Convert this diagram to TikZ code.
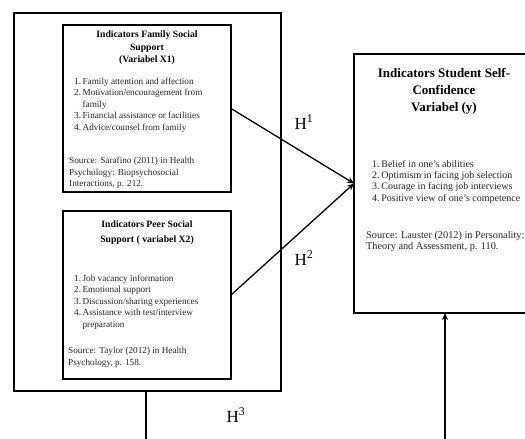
\documentclass[tikz,border=0pt]{standalone}
\usepackage{fontspec}
\setmainfont{Liberation Serif}
\usetikzlibrary{arrows.meta}
\begin{document}
\begin{tikzpicture}[x=1pt,y=-1pt,
  frame/.style={draw=black,line width=1.8pt,inner sep=0pt,outer sep=0pt,rectangle},
  conn/.style={draw=black,line width=1.3pt},
  arr/.style={conn,-{Stealth[length=7pt,width=6pt]}},
  ttl/.style={font=\fontsize{9.7}{12.5}\selectfont\bfseries,align=center,inner sep=0pt,anchor=north},
  ttlbig/.style={font=\fontsize{13}{17}\selectfont\bfseries,align=center,inner sep=0pt,anchor=north},
  body/.style={font=\fontsize{9.2}{11.5}\selectfont,align=left,inner sep=0pt,anchor=north west,text=black!85},
  bodyy/.style={body,font=\fontsize{10}{11.3}\selectfont},
  hlab/.style={font=\fontsize{17}{19}\selectfont,inner sep=0pt}]
\clip (0,0) rectangle (525,439);
\fill[white] (0,0) rectangle (525,439);
% boxes
\node[frame,minimum width=267pt,minimum height=378pt] (outer) at (147.5,202) {};
\node[frame,minimum width=168pt,minimum height=167pt] (box1) at (147,108.5) {};
\node[frame,minimum width=168pt,minimum height=168pt] (box2) at (147,295) {};
\node[frame,minimum width=182pt,minimum height=259pt] (boxy) at (445,183.5) {};
% box 1 text
\node[ttl] (t1) at (147,31) {Indicators Family Social\\Support\\(Variabel X1)};
\node[body] (i1) at (74,76) {\begin{tabular}{@{}r@{\,}l@{}}1.&Family attention and affection\\2.&Motivation/encouragement from\\&family\\3.&Financial assistance or facilities\\4.&Advice/counsel from family\end{tabular}};
\node[body] (s1) at (69,157) {Source: Sarafino (2011) in Health\\Psychology: Biopsychosocial\\Interactions, p. 212.};
% box 2 text
\node[ttl] (t2) at (147,221) {Indicators Peer Social\\[2pt]Support ( variabel X2)};
\node[body] (i2) at (74,273) {\begin{tabular}{@{}r@{\,}l@{}}1.&Job vacancy information\\2.&Emotional support\\3.&Discussion/sharing experiences\\4.&Assistance with test/interview\\&preparation\end{tabular}};
\node[body] (s2) at (68,347) {Source: Taylor (2012) in Health\\Psychology, p. 158.};
% box y text
\node[ttlbig] (ty) at (444,68) {Indicators Student Self-\\Confidence\\Variabel (y)};
\node[bodyy] (iy) at (372,159) {\begin{tabular}{@{}r@{\,}l@{}}1.&Belief in one's abilities\\2.&Optimism in facing job selection\\3.&Courage in facing job interviews\\4.&Positive view of one's competence\end{tabular}};
\node[bodyy,font=\fontsize{10.3}{11.5}\selectfont] (sy) at (366,231) {Source: Lauster (2012) in Personality:\\Theory and Assessment, p. 110.};
% connectors
\coordinate (b3) at (146,439);
\coordinate (by) at (445,439);
\draw[arr] (box1.east) -- (boxy.west);
\draw[arr] (box2.east) -- (boxy.west);
\draw[conn] (outer.south -| b3) -- (b3);
\draw[arr] (by) -- (boxy.south);
% labels
\node[hlab] (h1) at (304,122) {H\textsuperscript{1}};
\node[hlab] (h2) at (304,258) {H\textsuperscript{2}};
\node[hlab] (h3) at (236,415) {H\textsuperscript{3}};
\end{tikzpicture}
\end{document}
